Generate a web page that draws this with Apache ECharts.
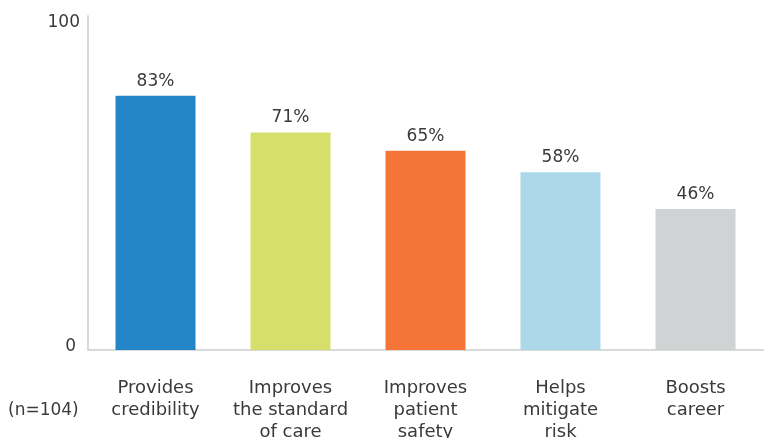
<!DOCTYPE html>
<html><head><meta charset="utf-8">
<script src="https://cdn.jsdelivr.net/npm/echarts@6/dist/echarts.min.js"></script>
<style>html,body{margin:0;padding:0;background:#fff}#c{width:769px;height:438px}</style>
</head><body><div id="c"></div>
<script>
const categories = ['Provides\ncredibility', 'Improves\nthe standard\nof care', 'Improves\npatient\nsafety', 'Helps\nmitigate\nrisk', 'Boosts\ncareer'];
const values = [83, 71, 65, 58, 46];
const barColors = ['#2384c6', '#d6df6a', '#f47537', '#add8ea', '#d0d3d4'];
const yTickLabels = ['0', '100'];
const sampleNote = '(n=104)';
const FONT = '"DejaVu Sans", sans-serif';
const TXT = '#3a3a3a';
const chart = echarts.init(document.getElementById('c'));
chart.setOption({
  animation: false,
  grid: {left: 88, right: 6, top: 16, bottom: 88, containLabel: false, outerBoundsMode: 'none'},
  xAxis: {
    type: 'category', data: categories,
    axisLine: {lineStyle: {color: '#d9d9d9', width: 2}},
    axisTick: {show: false},
    axisLabel: {color: TXT, fontSize: 18, fontFamily: FONT, lineHeight: 22, margin: 27, interval: 0}
  },
  yAxis: {
    type: 'value', min: 0, max: 109, interval: 109,
    splitLine: {show: false}, axisTick: {show: false},
    axisLine: {show: true, lineStyle: {color: '#d9d9d9', width: 2}},
    axisLabel: {
      margin: 8, fontFamily: FONT, fontSize: 17, color: TXT,
      formatter: v => v === 0 ? '{b|' + yTickLabels[0] + '}' : '{t|' + yTickLabels[1] + '}',
      rich: {
        t: {fontFamily: FONT, fontSize: 17, color: TXT, padding: [13, 0, 0, 0]},
        b: {fontFamily: FONT, fontSize: 17, color: TXT, padding: [0, 4, 6, 0]}
      }
    }
  },
  series: [{
    type: 'bar', barWidth: 80,
    data: values.map((v, i) => ({value: v, itemStyle: {color: barColors[i]}})),
    label: {show: true, position: 'top', distance: 6, formatter: '{c}%', color: TXT, fontSize: 17, fontFamily: FONT}
  }],
  graphic: [{
    type: 'text', left: 8, top: 402,
    style: {text: sampleNote, fontSize: 17, fontFamily: FONT, fill: TXT}
  }]
});
</script></body></html>
